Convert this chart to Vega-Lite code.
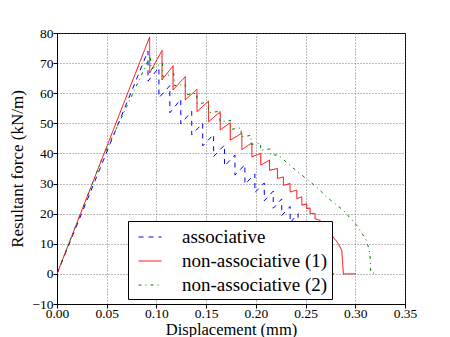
{
  "$schema": "https://vega.github.io/schema/vega-lite/v6.json",
  "width": 348,
  "height": 271,
  "autosize": "none",
  "padding": {"left": 57, "top": 33, "right": 45, "bottom": 33},
  "background": "white",
  "config": {
    "view": {"stroke": "black", "strokeWidth": 1},
    "font": "'Liberation Serif', serif",
    "axis": {
      "domainColor": "black", "tickColor": "black", "tickSize": 4, "labelPadding": -2,
      "labelFont": "'Liberation Serif', serif", "labelFontSize": 13.5, "labelColor": "black",
      "titleFont": "'Liberation Serif', serif", "titleFontSize": 16.5, "titleFontWeight": "normal", "titleColor": "black",
      "grid": true, "gridDash": [1, 2], "gridColor": "#555", "gridWidth": 0.8,
      "labelFlush": false, "labelOverlap": false
    },
    "axisX": {"titlePadding": 1.5},
    "axisY": {"titlePadding": 5, "titleFontSize": 17, "labelPadding": 0},
    "legend": {
      "orient": "none", "legendX": 71, "legendY": 188, "padding": 4,
      "strokeColor": "black", "fillColor": "white", "cornerRadius": 0,
      "symbolType": "stroke", "symbolSize": 529, "symbolStrokeWidth": 1,
      "labelFont": "'Liberation Serif', serif", "labelFontSize": 19, "labelColor": "black", "labelOffset": 20,
      "rowPadding": 2, "symbolOffset": 6, "labelLimit": 0
    }
  },
  "data": {"values": [
    {"s": "associative", "i": 0, "x": 0, "y": 0},
    {"s": "associative", "i": 1, "x": 0.0915, "y": 74},
    {"s": "associative", "i": 2, "x": 0.0915, "y": 64},
    {"s": "associative", "i": 3, "x": 0.1025, "y": 68.5},
    {"s": "associative", "i": 4, "x": 0.1025, "y": 58.5},
    {"s": "associative", "i": 5, "x": 0.1135, "y": 62.5},
    {"s": "associative", "i": 6, "x": 0.1135, "y": 53.5},
    {"s": "associative", "i": 7, "x": 0.1245, "y": 58},
    {"s": "associative", "i": 8, "x": 0.1245, "y": 49.8},
    {"s": "associative", "i": 9, "x": 0.1355, "y": 54},
    {"s": "associative", "i": 10, "x": 0.1355, "y": 46.2},
    {"s": "associative", "i": 11, "x": 0.1465, "y": 50},
    {"s": "associative", "i": 12, "x": 0.1465, "y": 42.5},
    {"s": "associative", "i": 13, "x": 0.1575, "y": 46.3},
    {"s": "associative", "i": 14, "x": 0.1575, "y": 39},
    {"s": "associative", "i": 15, "x": 0.1685, "y": 42.8},
    {"s": "associative", "i": 16, "x": 0.1685, "y": 35.8},
    {"s": "associative", "i": 17, "x": 0.179, "y": 39.5},
    {"s": "associative", "i": 18, "x": 0.179, "y": 32.8},
    {"s": "associative", "i": 19, "x": 0.189, "y": 36.3},
    {"s": "associative", "i": 20, "x": 0.189, "y": 29.8},
    {"s": "associative", "i": 21, "x": 0.199, "y": 33.2},
    {"s": "associative", "i": 22, "x": 0.199, "y": 27},
    {"s": "associative", "i": 23, "x": 0.2085, "y": 30.2},
    {"s": "associative", "i": 24, "x": 0.2085, "y": 24.3},
    {"s": "associative", "i": 25, "x": 0.2175, "y": 27.5},
    {"s": "associative", "i": 26, "x": 0.2175, "y": 21.8},
    {"s": "associative", "i": 27, "x": 0.226, "y": 24.9},
    {"s": "associative", "i": 28, "x": 0.226, "y": 19.4},
    {"s": "associative", "i": 29, "x": 0.2345, "y": 22.4},
    {"s": "associative", "i": 30, "x": 0.2345, "y": 17},
    {"s": "associative", "i": 31, "x": 0.2425, "y": 20},
    {"s": "associative", "i": 32, "x": 0.2425, "y": 14.8},
    {"s": "associative", "i": 33, "x": 0.2505, "y": 17.6},
    {"s": "associative", "i": 34, "x": 0.2505, "y": 12.6},
    {"s": "associative", "i": 35, "x": 0.258, "y": 15.3},
    {"s": "associative", "i": 36, "x": 0.258, "y": 10.6},
    {"s": "associative", "i": 37, "x": 0.265, "y": 12},
    {"s": "associative", "i": 38, "x": 0.2665, "y": 0},
    {"s": "associative", "i": 39, "x": 0.2785, "y": 0},

    {"s": "non-associative (1)", "i": 0, "x": 0, "y": 0},
    {"s": "non-associative (1)", "i": 1, "x": 0.0932, "y": 78.7},
    {"s": "non-associative (1)", "i": 2, "x": 0.0932, "y": 66.7},
    {"s": "non-associative (1)", "i": 3, "x": 0.1056, "y": 74.2},
    {"s": "non-associative (1)", "i": 4, "x": 0.1056, "y": 64.4},
    {"s": "non-associative (1)", "i": 5, "x": 0.1167, "y": 69.1},
    {"s": "non-associative (1)", "i": 6, "x": 0.1167, "y": 61.1},
    {"s": "non-associative (1)", "i": 7, "x": 0.129, "y": 65.5},
    {"s": "non-associative (1)", "i": 8, "x": 0.129, "y": 57.8},
    {"s": "non-associative (1)", "i": 9, "x": 0.1408, "y": 61.3},
    {"s": "non-associative (1)", "i": 10, "x": 0.1408, "y": 53.9},
    {"s": "non-associative (1)", "i": 11, "x": 0.1524, "y": 57.4},
    {"s": "non-associative (1)", "i": 12, "x": 0.1524, "y": 50.5},
    {"s": "non-associative (1)", "i": 13, "x": 0.1642, "y": 53.9},
    {"s": "non-associative (1)", "i": 14, "x": 0.1642, "y": 47.8},
    {"s": "non-associative (1)", "i": 15, "x": 0.1742, "y": 50.2},
    {"s": "non-associative (1)", "i": 16, "x": 0.1742, "y": 44.4},
    {"s": "non-associative (1)", "i": 17, "x": 0.1859, "y": 46.7},
    {"s": "non-associative (1)", "i": 18, "x": 0.1859, "y": 41.3},
    {"s": "non-associative (1)", "i": 19, "x": 0.196, "y": 43.5},
    {"s": "non-associative (1)", "i": 20, "x": 0.196, "y": 38.9},
    {"s": "non-associative (1)", "i": 21, "x": 0.205, "y": 40},
    {"s": "non-associative (1)", "i": 22, "x": 0.205, "y": 36.1},
    {"s": "non-associative (1)", "i": 23, "x": 0.2137, "y": 37.8},
    {"s": "non-associative (1)", "i": 24, "x": 0.2137, "y": 34.4},
    {"s": "non-associative (1)", "i": 25, "x": 0.2217, "y": 35},
    {"s": "non-associative (1)", "i": 26, "x": 0.2217, "y": 31.7},
    {"s": "non-associative (1)", "i": 27, "x": 0.2277, "y": 32.2},
    {"s": "non-associative (1)", "i": 28, "x": 0.2277, "y": 29.4},
    {"s": "non-associative (1)", "i": 29, "x": 0.2344, "y": 30},
    {"s": "non-associative (1)", "i": 30, "x": 0.2344, "y": 27.2},
    {"s": "non-associative (1)", "i": 31, "x": 0.2412, "y": 27.8},
    {"s": "non-associative (1)", "i": 32, "x": 0.2412, "y": 25},
    {"s": "non-associative (1)", "i": 33, "x": 0.2462, "y": 25.6},
    {"s": "non-associative (1)", "i": 34, "x": 0.2462, "y": 22.8},
    {"s": "non-associative (1)", "i": 35, "x": 0.2512, "y": 23.3},
    {"s": "non-associative (1)", "i": 36, "x": 0.2512, "y": 21.7},
    {"s": "non-associative (1)", "i": 37, "x": 0.2545, "y": 21.9},
    {"s": "non-associative (1)", "i": 38, "x": 0.2545, "y": 20},
    {"s": "non-associative (1)", "i": 39, "x": 0.2595, "y": 20.1},
    {"s": "non-associative (1)", "i": 40, "x": 0.2595, "y": 18.3},
    {"s": "non-associative (1)", "i": 41, "x": 0.2646, "y": 17.8},
    {"s": "non-associative (1)", "i": 42, "x": 0.2712, "y": 15},
    {"s": "non-associative (1)", "i": 43, "x": 0.2779, "y": 12.2},
    {"s": "non-associative (1)", "i": 44, "x": 0.283, "y": 10},
    {"s": "non-associative (1)", "i": 45, "x": 0.2864, "y": 7.8},
    {"s": "non-associative (1)", "i": 46, "x": 0.288, "y": 0},
    {"s": "non-associative (1)", "i": 47, "x": 0.3007, "y": 0},

    {"s": "non-associative (2)", "i": 0, "x": 0, "y": 0},
    {"s": "non-associative (2)", "i": 1, "x": 0.045, "y": 38},
    {"s": "non-associative (2)", "i": 2, "x": 0.07, "y": 55.5},
    {"s": "non-associative (2)", "i": 3, "x": 0.094, "y": 72.5},
    {"s": "non-associative (2)", "i": 4, "x": 0.0945, "y": 68},
    {"s": "non-associative (2)", "i": 5, "x": 0.106, "y": 70},
    {"s": "non-associative (2)", "i": 6, "x": 0.1065, "y": 65.5},
    {"s": "non-associative (2)", "i": 7, "x": 0.1175, "y": 66.5},
    {"s": "non-associative (2)", "i": 8, "x": 0.118, "y": 62.5},
    {"s": "non-associative (2)", "i": 9, "x": 0.129, "y": 63},
    {"s": "non-associative (2)", "i": 10, "x": 0.1295, "y": 59.5},
    {"s": "non-associative (2)", "i": 11, "x": 0.1405, "y": 60},
    {"s": "non-associative (2)", "i": 12, "x": 0.141, "y": 56.5},
    {"s": "non-associative (2)", "i": 13, "x": 0.152, "y": 57},
    {"s": "non-associative (2)", "i": 14, "x": 0.1525, "y": 53.5},
    {"s": "non-associative (2)", "i": 15, "x": 0.1635, "y": 54},
    {"s": "non-associative (2)", "i": 16, "x": 0.164, "y": 50.5},
    {"s": "non-associative (2)", "i": 17, "x": 0.1745, "y": 51},
    {"s": "non-associative (2)", "i": 18, "x": 0.175, "y": 48},
    {"s": "non-associative (2)", "i": 19, "x": 0.185, "y": 48.5},
    {"s": "non-associative (2)", "i": 20, "x": 0.1855, "y": 45.5},
    {"s": "non-associative (2)", "i": 21, "x": 0.195, "y": 46},
    {"s": "non-associative (2)", "i": 22, "x": 0.1955, "y": 43},
    {"s": "non-associative (2)", "i": 23, "x": 0.2045, "y": 43.5},
    {"s": "non-associative (2)", "i": 24, "x": 0.205, "y": 41},
    {"s": "non-associative (2)", "i": 25, "x": 0.214, "y": 41.5},
    {"s": "non-associative (2)", "i": 26, "x": 0.2145, "y": 39.5},
    {"s": "non-associative (2)", "i": 27, "x": 0.2225, "y": 39.5},
    {"s": "non-associative (2)", "i": 28, "x": 0.2361, "y": 35.5},
    {"s": "non-associative (2)", "i": 29, "x": 0.2528, "y": 31.1},
    {"s": "non-associative (2)", "i": 30, "x": 0.2628, "y": 28.3},
    {"s": "non-associative (2)", "i": 31, "x": 0.2713, "y": 25.5},
    {"s": "non-associative (2)", "i": 32, "x": 0.288, "y": 21.1},
    {"s": "non-associative (2)", "i": 33, "x": 0.3014, "y": 16.1},
    {"s": "non-associative (2)", "i": 34, "x": 0.3114, "y": 11.1},
    {"s": "non-associative (2)", "i": 35, "x": 0.3148, "y": 6.7},
    {"s": "non-associative (2)", "i": 36, "x": 0.3155, "y": 0.5},
    {"s": "non-associative (2)", "i": 37, "x": 0.3215, "y": 0}
  ]},
  "mark": {"type": "line", "strokeWidth": 1, "clip": true},
  "encoding": {
    "x": {
      "field": "x", "type": "quantitative",
      "scale": {"domain": [0, 0.35], "nice": false, "zero": false},
      "axis": {"values": [0, 0.05, 0.1, 0.15, 0.2, 0.25, 0.3, 0.35], "format": ".2f", "title": "Displacement (mm)"}
    },
    "y": {
      "field": "y", "type": "quantitative",
      "scale": {"domain": [-10, 80], "nice": false},
      "axis": {"values": [-10, 0, 10, 20, 30, 40, 50, 60, 70, 80], "format": "d", "title": "Resultant force (kN/m)"}
    },
    "color": {
      "field": "s", "type": "nominal",
      "scale": {"domain": ["associative", "non-associative (1)", "non-associative (2)"], "range": ["#0000ff", "#ff0000", "#008000"]},
      "legend": {"title": null}
    },
    "strokeDash": {
      "field": "s", "type": "nominal",
      "scale": {"domain": ["associative", "non-associative (1)", "non-associative (2)"], "range": [[5, 5], [1, 0], [3, 4, 1, 4]]},
      "legend": {"title": null}
    },
    "order": {"field": "i", "type": "quantitative"}
  }
}
